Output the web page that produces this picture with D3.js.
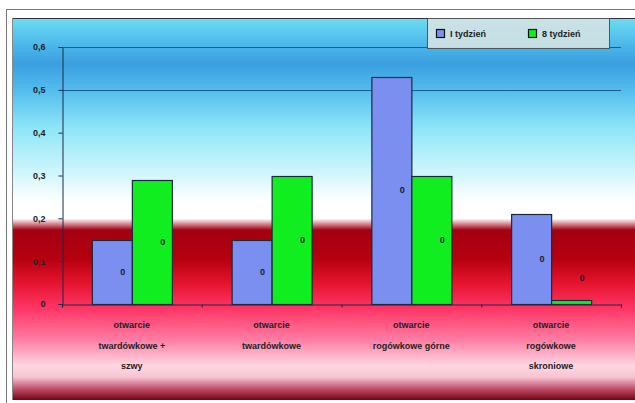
<!DOCTYPE html>
<html>
<head>
<meta charset="utf-8">
<script src="https://cdn.jsdelivr.net/npm/d3@7"></script>
<style>
  html, body { margin: 0; padding: 0; background: #ffffff; }
  svg { display: block; }
  text { font-family: "Liberation Sans", Arial, sans-serif; }
</style>
</head>
<body>
<svg id="chart" width="635" height="403"></svg>
<script>
// ---- data ----
const categories = [
  ["otwarcie", "twardówkowe +", "szwy"],
  ["otwarcie", "twardówkowe"],
  ["otwarcie", "rogówkowe górne"],
  ["otwarcie", "rogówkowe", "skroniowe"]
];
const seriesNames = ["I tydzień", "8 tydzień"];
const week1 = [0.15, 0.15, 0.53, 0.21];
const week8 = [0.29, 0.30, 0.30, 0.01];
const barLabels1 = ["0", "0", "0", "0"];
const barLabels8 = ["0", "0", "0", "0"];
const yTicks = [0, 0.1, 0.2, 0.3, 0.4, 0.5, 0.6];
const yTickLabels = ["0", "0,1", "0,2", "0,3", "0,4", "0,5", "0,6"];
const gridValues = [0.5, 0.6];

const colors = ["#7b8ff0", "#10ee20"];

const svg = d3.select("#chart");
const W = 635, H = 403;

// outer frame
svg.append("rect").attr("x", 6.5).attr("y", 9.5).attr("width", W).attr("height", H)
  .attr("fill", "#ffffff").attr("stroke", "#777").attr("stroke-width", 1);

// gradient background of chart area
const defs = svg.append("defs");
const grad = defs.append("linearGradient").attr("id", "bg")
  .attr("x1", 0).attr("y1", 0).attr("x2", 0).attr("y2", 1);
[
  [0.00, "#6fdcf2"], [0.07, "#4cb8ea"], [0.12, "#3a9ee0"], [0.19, "#54bdee"],
  [0.29, "#8fe6f8"], [0.40, "#cdf5fc"], [0.48, "#ffffff"], [0.525, "#ffffff"],
  [0.555, "#a30012"], [0.63, "#b5000f"], [0.69, "#e3122b"], [0.76, "#ff3565"],
  [0.84, "#ff7aa2"], [0.91, "#ffd6e3"], [0.94, "#f7c5d2"], [0.97, "#c05070"],
  [1.00, "#7a0012"]
].forEach(([o, c]) => grad.append("stop").attr("offset", o).attr("stop-color", c));

svg.append("rect").attr("x", 12).attr("y", 18).attr("width", W - 12).attr("height", 382)
  .attr("fill", "url(#bg)");
svg.append("line").attr("x1", 12).attr("x2", W).attr("y1", 18.5).attr("y2", 18.5)
  .attr("stroke", "#333").attr("stroke-width", 1);
svg.append("line").attr("x1", 12.5).attr("x2", 12.5).attr("y1", 18).attr("y2", 400)
  .attr("stroke", "#888").attr("stroke-width", 1);

// scales
const x0 = 62, x1 = 621, y0 = 304, yTop = 47;
const x = d3.scaleBand().domain(d3.range(categories.length)).range([x0, x1]).paddingInner(0).paddingOuter(0);
const y = d3.scaleLinear().domain([0, 0.6]).range([y0, yTop]);
const bw = 40;

// gridlines
svg.append("g").selectAll("line").data(gridValues).join("line")
  .attr("x1", x0).attr("x2", x1)
  .attr("y1", d => Math.round(y(d)) + 0.5).attr("y2", d => Math.round(y(d)) + 0.5)
  .attr("stroke", "#1e5a8a").attr("stroke-width", 1);

// bars
const series = [week1, week8];
const labels = [barLabels1, barLabels8];
series.forEach((vals, si) => {
  const g = svg.append("g");
  g.selectAll("rect").data(vals).join("rect")
    .attr("x", (d, i) => x(i) + x.bandwidth() / 2 - bw + si * bw + 0.5)
    .attr("y", d => Math.round(y(d)) + 0.5)
    .attr("width", bw)
    .attr("height", d => y0 - Math.round(y(d)))
    .attr("fill", colors[si])
    .attr("stroke", "#1a2a3a").attr("stroke-width", 1.2);
  g.selectAll("text").data(vals).join("text")
    .attr("x", (d, i) => x(i) + x.bandwidth() / 2 - bw + si * bw + bw - 9)
    .attr("y", d => Math.min(y(d / 2), y0 - 26) + 3)
    .attr("text-anchor", "middle")
    .attr("font-size", 9).attr("font-weight", "bold").attr("fill", "#1a1a2a")
    .text((d, i) => labels[si][i]);
});

// y axis
const yAxis = d3.axisLeft(y).tickValues(yTicks).tickSize(4)
  .tickFormat((d, i) => yTickLabels[i]);
const ya = svg.append("g").attr("transform", `translate(${x0 + 0.5},0)`).call(yAxis);
ya.select(".domain").attr("stroke", "#1a2a4a").attr("stroke-width", 1);
ya.selectAll(".tick line").attr("stroke", "#1a2a4a");
ya.selectAll(".tick text").attr("font-size", 9).attr("font-weight", "bold")
  .attr("fill", "#222").attr("x", -17).attr("font-family", "Liberation Sans, Arial, sans-serif");

// x axis
const xb = d3.scaleLinear().domain([0, categories.length]).range([x0, x1]);
const xAxis = d3.axisBottom(xb).tickValues(d3.range(categories.length + 1)).tickSize(3).tickFormat("");
const xa = svg.append("g").attr("transform", `translate(0,${y0 + 0.5})`).call(xAxis);
xa.select(".domain").attr("stroke", "#1a2a4a").attr("stroke-width", 1.2);
xa.selectAll(".tick line").attr("stroke", "#1a2a4a");

// category labels
const cl = svg.append("g");
categories.forEach((lines, i) => {
  const t = cl.append("text")
    .attr("x", x(i) + x.bandwidth() / 2)
    .attr("y", 328)
    .attr("text-anchor", "middle")
    .attr("font-size", 9).attr("font-weight", "bold").attr("fill", "#222");
  lines.forEach((ln, j) => {
    t.append("tspan").attr("x", x(i) + x.bandwidth() / 2).attr("dy", j === 0 ? 0 : 20.5).text(ln);
  });
});

// legend
const lg = svg.append("g");
lg.append("rect").attr("x", 427.5).attr("y", 18.5).attr("width", 182).attr("height", 30)
  .attr("fill", "#d0e2e4").attr("fill-opacity", 0.92).attr("stroke", "#555").attr("stroke-width", 1);
const legX = [436, 528];
seriesNames.forEach((nm, i) => {
  lg.append("rect").attr("x", legX[i] + 0.5).attr("y", 29.5).attr("width", 8).attr("height", 8)
    .attr("fill", colors[i]).attr("stroke", "#111").attr("stroke-width", 1.2);
  lg.append("text").attr("x", legX[i] + 14).attr("y", 37)
    .attr("font-size", 9).attr("font-weight", "bold").attr("fill", "#222").text(nm);
});
</script>
</body>
</html>
